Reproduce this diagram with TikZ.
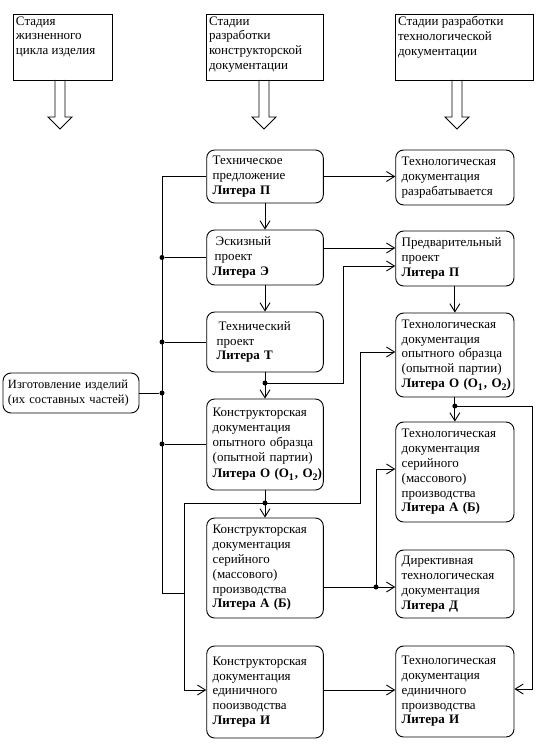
\documentclass[tikz,border=0pt]{standalone}
\usepackage{fontspec}
\setmainfont{Liberation Serif}
\usetikzlibrary{arrows.meta}
\newcommand\lsub[1]{\raisebox{-0.45ex}{\fontsize{10}{10}\selectfont #1}}
\newcommand\litO{\mbox{\textbf{Литера О {\fontsize{13}{13}\selectfont(О\lsub{1}\kern1pt, О\lsub{2})}}}}
\begin{document}
\begin{tikzpicture}[x=1pt,y=-1pt,
  every node/.style={font=\fontsize{13}{14.8}\selectfont},
  box/.style={draw, line width=0.9pt, rounded corners=8pt, inner xsep=6pt, inner ysep=2pt, align=left},
  lbox/.style={box, minimum width=116.6pt, text width=104.6pt},
  rbox/.style={box, minimum width=118.3pt, text width=106.3pt},
  hbox/.style={draw, line width=0.9pt, inner sep=0pt},
  arr/.style={-{Straight Barb[length=8pt,width=10pt,line width=0.9pt]}},
  dot/.style={circle, fill=black, inner sep=0pt, minimum size=5pt},
  conn/.style={line width=0.9pt}
]
\useasboundingbox (0,0) rectangle (558,754);

% header boxes
\node[hbox, minimum width=99pt, minimum height=66pt] (H1) at (62.5,47)
  {\parbox[c][61pt][t]{93pt}{Стадия\\жизненного\\цикла изделия}};
\node[hbox, minimum width=117pt, minimum height=66pt] (H2) at (264.5,47)
  {\parbox[c][61pt][t]{111pt}{Стадии\\разработки\\конструкторской\\документации}};
\node[hbox, minimum width=138pt, minimum height=66pt] (H3) at (464,47)
  {\parbox[c][61pt][t]{132pt}{Стадии разработки\\технологической\\документации}};

% hollow arrows
\coordinate (a1) at (60,80);
\coordinate (a2) at (264,80);
\coordinate (a3) at (457,80);
\foreach \a in {a1,a2,a3}{
  \draw[conn] ([xshift=-5pt]\a) -- ++(0,37) -- ++(-7,0) -- ++(12,12) -- ++(12,-12) -- ++(-7,0) -- ++(0,-37);
}

% left column
\node[lbox, minimum height=53pt] (TP) at (265,176.5)
  {Техническое\\предложение\\\textbf{Литера П}};
\node[lbox, minimum height=55pt] (Esk) at (265,257.5)
  {\hspace*{3pt}Эскизный\\\hspace*{2pt}проект\\\textbf{Литера Э}};
\node[lbox, minimum height=60pt] (TProj) at (265,342)
  {\hspace*{6pt}Технический\\\hspace*{4pt}проект\\\hspace*{4pt}\textbf{Литера Т}};
\node[lbox, minimum height=91pt] (KOp) at (265,444.5)
  {Конструкторская\\документация\\опытного образца\\(опытной партии)\\[2pt]\litO};
\node[lbox, minimum height=100pt] (KSer) at (265,568)
  {Конструкторская\\документация\\серийного\\(массового)\\производства\\\textbf{Литера А (Б)}};
\node[lbox, minimum height=92pt] (KEd) at (265,692)
  {Конструкторская\\документация\\единичного\\пооизводства\\\textbf{Литера И}};

% right column
\node[rbox, minimum height=55pt] (TDr) at (454.85,177.5)
  {Технологическая\\документация\\разрабатывается};
\node[rbox, minimum height=55pt] (Pred) at (454.85,258.5)
  {Предварительный\\проект\\\textbf{Литера П}};
\node[rbox, minimum height=84pt] (TOp) at (454.85,355)
  {Технологическая\\документация\\опытного образца\\(опытной партии)\\\litO};
\node[rbox, minimum height=100pt] (TSer) at (454.85,472)
  {Технологическая\\документация\\серийного\\(массового)\\производства\\\textbf{Литера А (Б)}};
\node[rbox, minimum height=68pt] (Dir) at (454.85,584)
  {Директивная\\технологическая\\документация\\\textbf{Литера Д}};
\node[rbox, minimum height=91pt] (TEd) at (454.85,691.5)
  {Технологическая\\документация\\единичного\\производства\\\textbf{Литера И}};

% left box
\node[box, minimum width=136pt, minimum height=40pt, inner xsep=5pt, text width=126pt,
      font=\fontsize{12.5}{14.8}\selectfont] (Izg) at (71,393)
  {Изготовление изделий\\(их составных частей)};

% bus
\coordinate (bt) at (162,176.5);
\coordinate (bb) at (162,593);
\coordinate (c7) at (184,593);
\draw[conn] (TP.west) -- (bt) -- (bb) -- (c7);
\node[dot] (b1) at (162,257.5) {};
\node[dot] (b2) at (162,342) {};
\node[dot] (b3) at (162,393) {};
\node[dot] (b4) at (162,444) {};
\draw[conn] (b1) -- (b1 -| Esk.west);
\draw[conn] (b2) -- (b2 -| TProj.west);
\draw[conn] (Izg.east) -- (b3);
\draw[conn] (b4) -- (b4 -| KOp.west);

% vertical chain left
\draw[conn, arr] (TP.south) -- (Esk.north);
\draw[conn, arr] (Esk.south) -- (TProj.north);
\node[dot] (j1) at (265,383) {};
\draw[conn] (TProj.south) -- (j1.center);
\draw[conn, arr] (j1.center) -- (KOp.north);
\coordinate (c1) at (343,383);
\coordinate (c2) at (343,266);
\draw[conn, arr] (j1.center) -- (c1) -- (c2) -- (c2 -| Pred.west);
\node[dot] (j2) at (265,503) {};
\draw[conn] (KOp.south) -- (j2.center);
\draw[conn, arr] (j2.center) -- (KSer.north);
\coordinate (c3) at (184,503);
\coordinate (c4) at (184,690);
\draw[conn, arr] (j2.center) -- (c3) -- (c4) -- (c4 -| KEd.west);
\coordinate (c5) at (360,503);
\coordinate (c6) at (360,352);
\draw[conn, arr] (j2.center) -- (c5) -- (c6) -- (c6 -| TOp.west);

% horizontal arrows
\draw[conn, arr] (TP.east) -- (TP.east -| TDr.west);
\coordinate (yEP) at (0,248);
\draw[conn, arr] (Esk.east |- yEP) -- (Pred.west |- yEP);
\node[dot] (j3) at (376,587) {};
\draw[conn] (KSer.east |- j3) -- (j3.center);
\draw[conn, arr] (j3.center) -- (j3 -| Dir.west);
\coordinate (c9) at (376,469);
\draw[conn, arr] (j3.center) -- (c9) -- (c9 -| TSer.west);
\coordinate (yKT) at (0,690);
\draw[conn, arr] (KEd.east |- yKT) -- (TEd.west |- yKT);

% right chain
\draw[conn, arr] (Pred.south) -- (TOp.north);
\node[dot] (j4) at (454.85,406) {};
\draw[conn] (TOp.south) -- (j4.center);
\draw[conn, arr] (j4.center) -- (TSer.north);
\coordinate (c10) at (532,406);
\coordinate (c11) at (532,689);
\draw[conn, arr] (j4.center) -- (c10) -- (c11) -- (c11 -| TEd.east);
\end{tikzpicture}
\end{document}
